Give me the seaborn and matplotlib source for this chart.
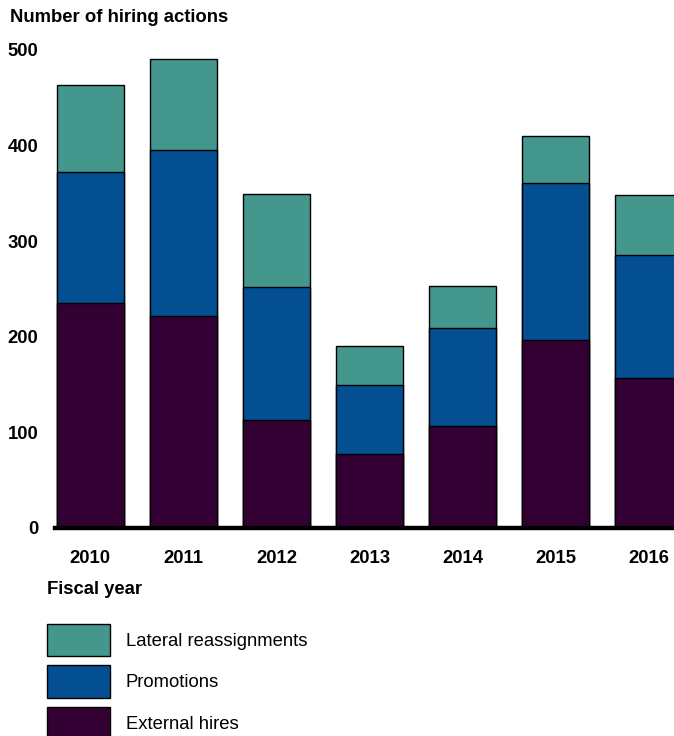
import matplotlib
matplotlib.use("Agg")
import matplotlib.pyplot as plt
import seaborn as sns
import pandas as pd
from matplotlib.patches import Patch

# values
years = ["2010", "2011", "2012", "2013", "2014", "2015", "2016"]
external_hires = [235, 222, 113, 77, 107, 197, 157]
promotions = [137, 173, 139, 73, 102, 164, 129]
lateral = [91, 96, 97, 40, 44, 49, 62]

series_names = ["Lateral reassignments", "Promotions", "External hires"]
colors = ["#43978d", "#044f91", "#330033"]

df = pd.DataFrame({
    "year": years,
    "external": external_hires,
    "promotions": promotions,
    "lateral": lateral,
})
df["lvl2"] = df["external"] + df["promotions"]
df["lvl3"] = df["lvl2"] + df["lateral"]

sns.set_style("white")
plt.rcParams["font.family"] = ["Liberation Sans", "DejaVu Sans"]
plt.rcParams["text.color"] = "black"
plt.rcParams["xtick.color"] = "black"
plt.rcParams["ytick.color"] = "black"

fs = 13.3

fig = plt.figure(figsize=(6.74, 7.36), dpi=100)
ax = fig.add_axes([55 / 674, 1 - 528 / 736, 1 - 55 / 674, 478 / 736])

# stacked bars: draw totals first, then overlay lower segments
for col, color in zip(["lvl3", "lvl2", "external"], colors):
    sns.barplot(data=df, x="year", y=col, color=color, width=0.72,
                edgecolor="black", linewidth=1, saturation=1, ax=ax)

ax.set_xlim(-0.38, 6.27)
ax.set_ylim(0, 500)
ax.set_yticks([0, 100, 200, 300, 400, 500])
ax.set_xlabel("")
ax.set_ylabel("")
ax.tick_params(axis="both", length=0, labelsize=fs)
ax.tick_params(axis="y", pad=12)
ax.tick_params(axis="x", pad=16)
for lab in ax.get_xticklabels() + ax.get_yticklabels():
    lab.set_fontweight("bold")

for s in ["top", "right", "left"]:
    ax.spines[s].set_visible(False)
ax.spines["bottom"].set_linewidth(3.2)
ax.spines["bottom"].set_color("black")

fig.text(10 / 674, 1 - 18 / 736, "Number of hiring actions", fontsize=fs,
         fontweight="bold", va="center", ha="left")
fig.text(47 / 674, 1 - 590 / 736, "Fiscal year", fontsize=fs,
         fontweight="bold", va="center", ha="left")

handles = [Patch(facecolor=c, edgecolor="black", linewidth=1) for c in colors]
fig.legend(handles, series_names, loc="upper left",
           bbox_to_anchor=(47 / 674, 1 - 624 / 736), frameon=False,
           fontsize=fs, handlelength=3.4, handleheight=2.3,
           handletextpad=0.85, labelspacing=0.5, borderaxespad=0,
           borderpad=0)

fig.savefig("out.png", dpi=100)
